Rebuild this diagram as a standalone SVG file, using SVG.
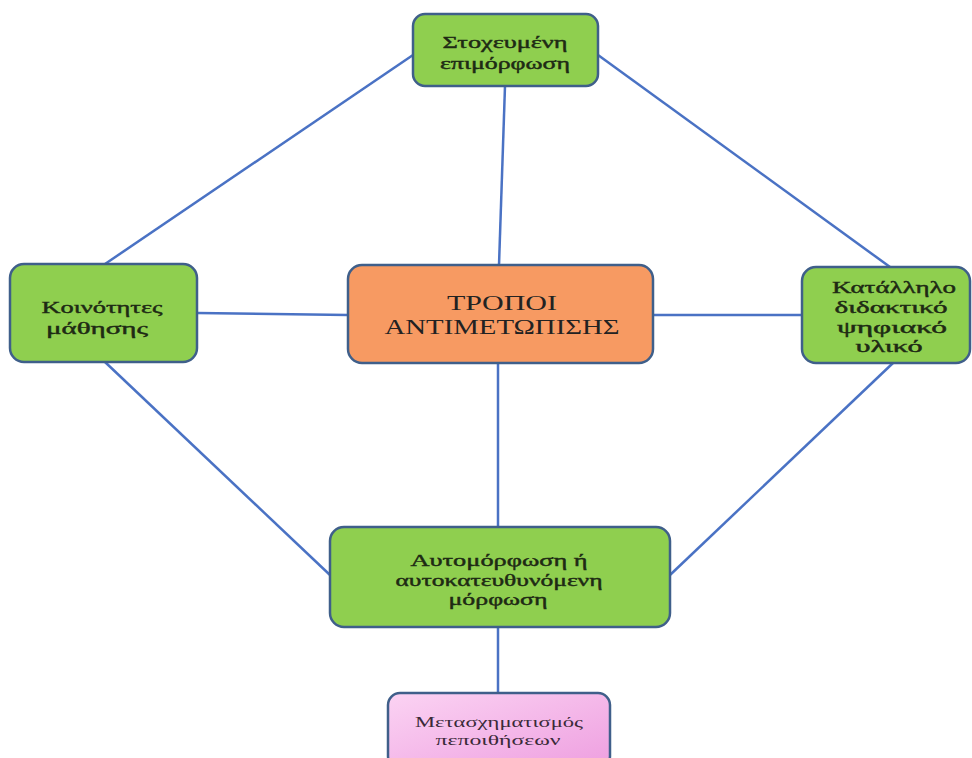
<svg xmlns="http://www.w3.org/2000/svg" width="972" height="758" viewBox="0 0 972 758">
<defs>
<linearGradient id="pinkg" x1="0" y1="0" x2="1" y2="1">
<stop offset="0" stop-color="#fbd3f3"/>
<stop offset="1" stop-color="#ee9fe0"/>
</linearGradient>
<style>
.box{stroke:#3f5f8a;stroke-width:2.5}
.g{fill:#8fcf4f}
.o{fill:#f79a62}
.p{fill:url(#pinkg)}
.t{font-family:"Liberation Serif","Times New Roman",serif;font-size:16px;fill:#1e2a14;stroke:#1e2a14;stroke-width:0.4;text-anchor:middle}
.tc{font-family:"Liberation Serif","Times New Roman",serif;font-size:20px;fill:#222;text-anchor:middle}
.tp{font-family:"Liberation Serif","Times New Roman",serif;font-size:15px;fill:#3a2a38;text-anchor:middle}
.ln{stroke:#4a72c4;stroke-width:2.5;fill:none}
</style>
</defs>
<rect width="972" height="758" fill="#ffffff"/>
<g id="connectors">
<line class="ln" x1="413" y1="55" x2="105" y2="264"/>
<line class="ln" x1="598" y1="55" x2="890" y2="267"/>
<line class="ln" x1="505" y1="86" x2="499" y2="265"/>
<line class="ln" x1="197" y1="313" x2="348" y2="315"/>
<line class="ln" x1="653" y1="315" x2="802" y2="315"/>
<line class="ln" x1="498" y1="363" x2="498" y2="527"/>
<line class="ln" x1="105" y1="362" x2="330" y2="575"/>
<line class="ln" x1="893" y1="363" x2="670" y2="575"/>
<line class="ln" x1="498" y1="627" x2="498" y2="693"/>
</g>
<g id="node-top">
<rect class="box g" x="413" y="14" width="185" height="72" rx="12"/>
<text class="t" x="505" y="48" textLength="125" lengthAdjust="spacingAndGlyphs">Στοχευμένη</text>
<text class="t" x="505" y="69" textLength="130" lengthAdjust="spacingAndGlyphs">επιμόρφωση</text>
</g>
<g id="node-left">
<rect class="box g" x="10" y="264" width="187" height="98" rx="14"/>
<text class="t" x="102" y="313" textLength="121" lengthAdjust="spacingAndGlyphs">Κοινότητες</text>
<text class="t" x="97" y="334" textLength="102" lengthAdjust="spacingAndGlyphs">μάθησης</text>
</g>
<g id="node-center">
<rect class="box o" x="348" y="265" width="305" height="98" rx="14"/>
<text class="tc" x="502" y="310" textLength="110" lengthAdjust="spacingAndGlyphs">ΤΡΟΠΟΙ</text>
<text class="tc" x="502" y="334" textLength="235" lengthAdjust="spacingAndGlyphs">ΑΝΤΙΜΕΤΩΠΙΣΗΣ</text>
</g>
<g id="node-right">
<rect class="box g" x="802" y="267" width="168" height="96" rx="14"/>
<text class="t" x="894" y="293" textLength="124" lengthAdjust="spacingAndGlyphs">Κατάλληλο</text>
<text class="t" x="891" y="313" textLength="113" lengthAdjust="spacingAndGlyphs">διδακτικό</text>
<text class="t" x="892" y="333" textLength="110" lengthAdjust="spacingAndGlyphs">ψηφιακό</text>
<text class="t" x="889" y="352" textLength="67" lengthAdjust="spacingAndGlyphs">υλικό</text>
</g>
<g id="node-bottom">
<rect class="box g" x="330" y="527" width="340" height="100" rx="14"/>
<text class="t" x="499" y="566" textLength="177" lengthAdjust="spacingAndGlyphs">Αυτομόρφωση  ή</text>
<text class="t" x="499" y="586" textLength="207" lengthAdjust="spacingAndGlyphs">αυτοκατευθυνόμενη</text>
<text class="t" x="498" y="605" textLength="99" lengthAdjust="spacingAndGlyphs">μόρφωση</text>
</g>
<g id="node-pink">
<rect class="box p" x="388" y="693" width="222" height="75" rx="12"/>
<text class="tp" x="499" y="727" textLength="168" lengthAdjust="spacingAndGlyphs">Μετασχηματισμός</text>
<text class="tp" x="498" y="745" textLength="125" lengthAdjust="spacingAndGlyphs">πεποιθήσεων</text>
</g>
</svg>
